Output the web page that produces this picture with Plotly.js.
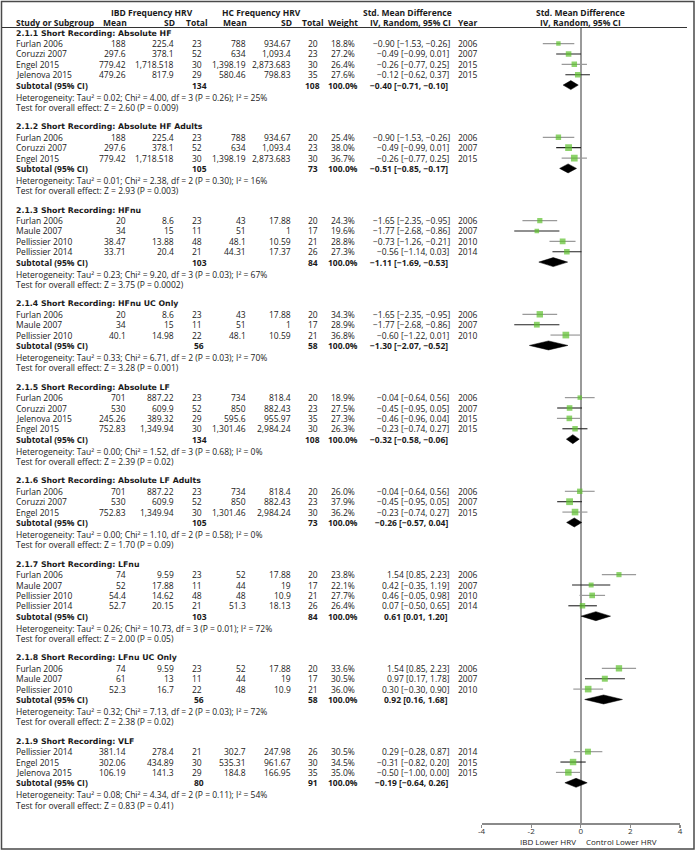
<!DOCTYPE html>
<html><head><meta charset="utf-8">
<script src="https://cdn.plot.ly/plotly-3.0.1.min.js"></script>
<style>html,body{margin:0;padding:0;background:#fff}</style>
</head><body><div id="chart" style="width:696px;height:851px"></div>
<script>
// ---------------- DATA ----------------
const groupTitles = [
  "2.1.1 Short Recording: Absolute HF",
  "2.1.2 Short Recording: Absolute HF Adults",
  "2.1.3 Short Recording: HFnu",
  "2.1.4 Short Recording: HFnu UC Only",
  "2.1.5 Short Recording: Absolute LF",
  "2.1.6 Short Recording: Absolute LF Adults",
  "2.1.7 Short Recording: LFnu",
  "2.1.8 Short Recording: LFnu UC Only",
  "2.1.9 Short Recording: VLF"
];
const groupOf = [0,0,0,0, 1,1,1, 2,2,2,2, 3,3,3, 4,4,4,4, 5,5,5, 6,6,6,6, 7,7,7, 8,8,8];
const studyNames = ["Furlan 2006","Coruzzi 2007","Engel 2015","Jelenova 2015",
  "Furlan 2006","Coruzzi 2007","Engel 2015",
  "Furlan 2006","Maule 2007","Pellissier 2010","Pellissier 2014",
  "Furlan 2006","Maule 2007","Pellissier 2010",
  "Furlan 2006","Coruzzi 2007","Jelenova 2015","Engel 2015",
  "Furlan 2006","Coruzzi 2007","Engel 2015",
  "Furlan 2006","Maule 2007","Pellissier 2010","Pellissier 2014",
  "Furlan 2006","Maule 2007","Pellissier 2010",
  "Pellissier 2014","Engel 2015","Jelenova 2015"];
const studyYears = [2006,2007,2015,2015, 2006,2007,2015, 2006,2007,2010,2014, 2006,2007,2010,
  2006,2007,2015,2015, 2006,2007,2015, 2006,2007,2010,2014, 2006,2007,2010, 2014,2015,2015];
const ibdMean = [188,297.6,779.42,479.26, 188,297.6,779.42, 20,34,38.47,33.71, 20,34,40.1,
  701,530,245.26,752.83, 701,530,752.83, 74,52,54.4,52.7, 74,61,52.3, 381.14,302.06,106.19];
const ibdSD = [225.4,378.1,1718.518,817.9, 225.4,378.1,1718.518, 8.6,15,13.88,20.4, 8.6,15,14.98,
  887.22,609.9,389.32,1349.94, 887.22,609.9,1349.94, 9.59,17.88,14.62,20.15, 9.59,13,16.7, 278.4,434.89,141.3];
const ibdN = [23,52,30,29, 23,52,30, 23,11,48,21, 23,11,22, 23,52,29,30, 23,52,30, 23,11,48,21, 23,11,22, 21,30,29];
const hcMean = [788,634,1398.19,580.46, 788,634,1398.19, 43,51,48.1,44.31, 43,51,48.1,
  734,850,595.6,1301.46, 734,850,1301.46, 52,44,48,51.3, 52,44,48, 302.7,535.31,184.8];
const hcSD = [934.67,1093.4,2873.683,798.83, 934.67,1093.4,2873.683, 17.88,1,10.59,17.37, 17.88,1,10.59,
  818.4,882.43,955.97,2984.24, 818.4,882.43,2984.24, 17.88,19,10.9,18.13, 17.88,19,10.9, 247.98,961.67,166.95];
const hcN = [20,23,30,35, 20,23,30, 20,17,21,26, 20,17,21, 20,23,35,30, 20,23,30, 20,17,21,26, 20,17,21, 26,30,35];
const weightPct = [18.8,27.2,26.4,27.6, 25.4,38.0,36.7, 24.3,19.6,28.8,27.3, 34.3,28.9,36.8,
  18.9,27.5,27.3,26.3, 26.0,37.9,36.2, 23.8,22.1,27.7,26.4, 33.6,30.5,36.0, 30.5,34.5,35.0];
const smd = [-0.90,-0.49,-0.26,-0.12, -0.90,-0.49,-0.26, -1.65,-1.77,-0.73,-0.56, -1.65,-1.77,-0.60,
  -0.04,-0.45,-0.46,-0.23, -0.04,-0.45,-0.23, 1.54,0.42,0.46,0.07, 1.54,0.97,0.30, 0.29,-0.31,-0.50];
const ciLow = [-1.53,-0.99,-0.77,-0.62, -1.53,-0.99,-0.77, -2.35,-2.68,-1.26,-1.14, -2.35,-2.68,-1.22,
  -0.64,-0.95,-0.96,-0.74, -0.64,-0.95,-0.74, 0.85,-0.35,-0.05,-0.50, 0.85,0.17,-0.30, -0.28,-0.82,-1.00];
const ciHigh = [-0.26,0.01,0.25,0.37, -0.26,0.01,0.25, -0.95,-0.86,-0.21,0.03, -0.95,-0.86,0.01,
  0.56,0.05,0.04,0.27, 0.56,0.05,0.27, 2.23,1.19,0.98,0.65, 2.23,1.78,0.90, 0.87,0.20,0.00];

const subIbdN = [134,105,103,56,134,105,103,56,80];
const subHcN = [108,73,84,58,108,73,84,58,91];
const subSmd = [-0.40,-0.51,-1.11,-1.30,-0.32,-0.26,0.61,0.92,-0.19];
const subLow = [-0.71,-0.85,-1.69,-2.07,-0.58,-0.57,0.01,0.16,-0.64];
const subHigh = [-0.10,-0.17,-0.53,-0.52,-0.06,0.04,1.20,1.68,0.26];
const hetTau2 = [0.02,0.01,0.23,0.33,0.00,0.00,0.26,0.32,0.08];
const hetChi2 = [4.00,2.38,9.20,6.71,1.52,1.10,10.73,7.13,4.34];
const hetDf = [3,2,3,2,3,2,3,2,2];
const hetP = ["0.26","0.30","0.03","0.03","0.68","0.58","0.01","0.03","0.11"];
const hetI2 = [25,16,67,70,0,0,72,72,54];
const effZ = [2.60,2.93,3.75,3.28,2.39,1.70,2.00,2.38,0.83];
const effP = ["0.009","0.003","0.0002","0.001","0.02","0.09","0.05","0.02","0.41"];

const axisTickVals = [-4,-2,0,2,4];
const axisTickText = ["-4","-2","0","2","4"];
const favoursLeft = "IBD Lower HRV";
const favoursRight = "Control Lower HRV";

// ---------------- LAYOUT / STYLE ----------------
const W = 696, H = 851;
const FONT = "Open Sans";
const FS = 8.5;
const TXT = "#1a1a1a";
const GREEN = "#5CC02C";
const R = 10.38;
const BOLD = {family:"Open Sans", size:8.5};
const GROUPB = {family:"DejaVu Sans", size:7.8};

const fmtNum = v => v.toLocaleString('en-US', {maximumFractionDigits: 3});
const fmt2 = v => v.toFixed(2).replace('-', '\u2212');
const ciText = (e, l, h) => fmt2(e) + " [" + fmt2(l) + ", " + fmt2(h) + "]";

const ann = [];
function txt(x, y, s, anchor, bold, xref) {
  const f = bold ? bold : {family:FONT, size:FS};
  ann.push({xref:xref || 'x', yref:'y', x:x, y:y, text: bold ? '<b>' + s + '</b>' : s,
    showarrow:false, xanchor:anchor, yanchor:'middle', borderpad:0,
    font:{family:f.family, size:f.size, color:TXT}});
}

// column positions (px)
const C = {name:15, ibdMean:127, ibdSD:175, ibdN:197, hcMean:247, hcSD:292, hcN:312.5, w:343, ci:451, year:457};

// header
txt(152, 12, "IBD Frequency HRV", 'center', BOLD);
txt(261, 12, "HC Frequency HRV", 'center', BOLD);
txt(407, 12, "Std. Mean Difference", 'center', BOLD);
const hy = 22.5;
txt(C.name, hy, "Study or Subgroup", 'left', BOLD);
txt(C.ibdMean + 1, hy, "Mean", 'right', BOLD);
txt(C.ibdSD + 1, hy, "SD", 'right', BOLD);
txt(C.ibdN, hy, "Total", 'center', BOLD);
txt(C.hcMean + 1, hy, "Mean", 'right', BOLD);
txt(C.hcSD + 1, hy, "SD", 'right', BOLD);
txt(C.hcN, hy, "Total", 'center', BOLD);
txt(C.w, hy, "Weight", 'center', BOLD);
txt(C.ci + 1, hy, "IV, Random, 95% CI", 'right', BOLD);
txt(C.year, hy, "Year", 'left', BOLD);
txt(0, 12, "Std. Mean Difference", 'center', BOLD, 'x2');
txt(0, hy, "IV, Random, 95% CI", 'center', BOLD, 'x2');

// rows
const studyY = [], subY = [];
let y = 33.2;
for (let g = 0; g < groupTitles.length; g++) {
  txt(C.name, y, groupTitles[g], 'left', GROUPB);
  for (let i = 0; i < studyNames.length; i++) {
    if (groupOf[i] !== g) continue;
    y += R;
    studyY[i] = y;
    txt(C.name, y, studyNames[i], 'left');
    txt(C.ibdMean, y, fmtNum(ibdMean[i]), 'right');
    txt(C.ibdSD, y, fmtNum(ibdSD[i]), 'right');
    txt(C.ibdN, y, String(ibdN[i]), 'center');
    txt(C.hcMean, y, fmtNum(hcMean[i]), 'right');
    txt(C.hcSD, y, fmtNum(hcSD[i]), 'right');
    txt(C.hcN, y, String(hcN[i]), 'center');
    txt(C.w, y, weightPct[i].toFixed(1) + "%", 'center');
    txt(C.ci, y, ciText(smd[i], ciLow[i], ciHigh[i]), 'right');
    txt(C.year, y, String(studyYears[i]), 'left');
  }
  y += R;
  subY[g] = y;
  txt(C.name, y, "Subtotal (95% CI)", 'left', BOLD);
  txt(C.ibdN + 2, y, String(subIbdN[g]), 'center', BOLD);
  txt(C.hcN, y, String(subHcN[g]), 'center', BOLD);
  txt(C.w, y, "100.0%", 'center', BOLD);
  txt(C.ci - 2, y, ciText(subSmd[g], subLow[g], subHigh[g]), 'right', BOLD);
  y += 12;
  txt(C.name, y, "Heterogeneity: Tau\u00b2 = " + hetTau2[g].toFixed(2) + "; Chi\u00b2 = " + hetChi2[g].toFixed(2) +
    ", df = " + hetDf[g] + " (P = " + hetP[g] + "); I\u00b2 = " + hetI2[g] + "%", 'left');
  y += 10.3;
  txt(C.name, y, "Test for overall effect: Z = " + effZ[g].toFixed(2) + " (P = " + effP[g] + ")", 'left');
  y += 19.5;
}

// favours labels
ann.push({xref:'x2', yref:'y', x:-0.15, y:841, text:favoursLeft, showarrow:false, xanchor:'right', yanchor:'middle',
  borderpad:0, font:{family:FONT, size:8, color:TXT}});
ann.push({xref:'x2', yref:'y', x:0.17, y:841, text:favoursRight, showarrow:false, xanchor:'left', yanchor:'middle',
  borderpad:0, font:{family:FONT, size:8, color:TXT}});

// ---------------- TRACES ----------------
const traces = [];
traces.push({x:[0], y:[0], xaxis:'x', yaxis:'y', mode:'markers', marker:{opacity:0}, hoverinfo:'skip', showlegend:false});

// CI lines (alternating gray / black by row within group)
const grayX = [], grayY = [], blackX = [], blackY = [];
const counter = {};
for (let i = 0; i < studyNames.length; i++) {
  const g = groupOf[i];
  counter[g] = (counter[g] || 0);
  const k = counter[g]++;
  const tx = (k % 2 === 0) ? grayX : blackX, ty = (k % 2 === 0) ? grayY : blackY;
  tx.push(ciLow[i], ciHigh[i], null);
  ty.push(studyY[i], studyY[i], null);
}
traces.push({x:grayX, y:grayY, xaxis:'x2', yaxis:'y2', mode:'lines', line:{color:'#9a9a9a', width:1.2}, hoverinfo:'skip', showlegend:false});
traces.push({x:blackX, y:blackY, xaxis:'x2', yaxis:'y2', mode:'lines', line:{color:'#222', width:1.1}, hoverinfo:'skip', showlegend:false});

// study squares
traces.push({x:smd, y:studyY, xaxis:'x2', yaxis:'y2', mode:'markers',
  marker:{symbol:'square', color:GREEN, size:weightPct.map(w => 1.3*Math.sqrt(w) - 1.2), line:{width:0}},
  hoverinfo:'skip', showlegend:false});

// diamonds
for (let g = 0; g < groupTitles.length; g++) {
  const yy = subY[g];
  traces.push({x:[subLow[g], subSmd[g], subHigh[g], subSmd[g], subLow[g]],
    y:[yy, yy-4.5, yy, yy+4.5, yy], xaxis:'x2', yaxis:'y2', mode:'lines', fill:'toself',
    fillcolor:'#000', line:{color:'#000', width:0.5}, hoverinfo:'skip', showlegend:false});
}

const layout = {
  width:W, height:H, margin:{l:0, r:0, t:0, b:0}, paper_bgcolor:'#fff', plot_bgcolor:'rgba(0,0,0,0)',
  showlegend:false,
  xaxis:{domain:[0,1], range:[0,W], visible:false, fixedrange:true},
  yaxis:{domain:[0,1], range:[H,0], visible:false, fixedrange:true},
  xaxis2:{domain:[481.5/W, 680/W], range:[-4,4], anchor:'y2', showgrid:false,
    zeroline:true, zerolinecolor:'#9a9a9a', zerolinewidth:2.2,
    showline:true, linecolor:'#8a8a8a', linewidth:1.5, ticks:'outside', ticklen:3, tickcolor:'#8a8a8a', tickwidth:1.2,
    ticklabelstandoff:-3,
    tickvals:axisTickVals, ticktext:axisTickText, tickfont:{family:FONT, size:8, color:'#333'}, fixedrange:true},
  yaxis2:{domain:[(H-823)/H, (H-27)/H], range:[823,27], anchor:'x2', visible:false, fixedrange:true},
  annotations:ann,
  shapes:[
    {type:'rect', xref:'x', yref:'y', x0:1.5, x1:694, y0:1.5, y1:849, line:{color:'#4a4a4a', width:1.5}},
    {type:'line', xref:'x', yref:'y', x0:2, x1:687, y0:27.5, y1:27.5, line:{color:'#333', width:1}}
  ]
};

Plotly.newPlot('chart', traces, layout, {staticPlot:true, displayModeBar:false});
</script>
</body></html>
